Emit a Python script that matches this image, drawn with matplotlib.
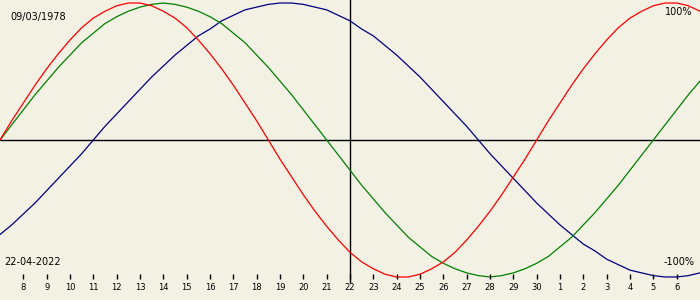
import numpy as np
import matplotlib.pyplot as plt

# Dias relativos a la fecha objetivo (22-04-2022), de -15 a +15, cada medio dia
dias = np.arange(-15, 15.5, 0.5)

# Ciclos (-1 .. 1)
fisico = [0.00, 0.14, 0.27, 0.40, 0.52, 0.63, 0.73, 0.82, 0.89, 0.94, 0.98,
          1.00, 1.00, 0.98, 0.94, 0.89, 0.82, 0.73, 0.63, 0.52, 0.40, 0.27,
          0.14, 0.00, -0.14, -0.27, -0.40, -0.52, -0.63, -0.73, -0.82, -0.89,
          -0.94, -0.98, -1.00, -1.00, -0.98, -0.94, -0.89, -0.82, -0.73, -0.63,
          -0.52, -0.40, -0.27, -0.14,
          0.00, 0.14, 0.27, 0.40, 0.52, 0.63, 0.73, 0.82, 0.89, 0.94, 0.98,
          1.00, 1.00, 0.98, 0.94]
emocional = [0.00, 0.11, 0.22, 0.33, 0.43, 0.53, 0.62, 0.71, 0.78, 0.85, 0.90,
             0.94, 0.97, 0.99, 1.00, 0.99, 0.97, 0.94, 0.90, 0.85, 0.78, 0.71,
             0.62, 0.53, 0.43, 0.33, 0.22, 0.11, 0.00,
             -0.11, -0.22, -0.33, -0.43, -0.53, -0.62, -0.71, -0.78, -0.85,
             -0.90, -0.94, -0.97, -0.99, -1.00, -0.99, -0.97, -0.94, -0.90,
             -0.85, -0.78, -0.71, -0.62, -0.53, -0.43, -0.33, -0.22, -0.11,
             0.00, 0.11, 0.22, 0.33, 0.43]
intelectual = [-0.69, -0.62, -0.54, -0.46, -0.37, -0.28, -0.19, -0.10,
               0.00, 0.10, 0.19, 0.28, 0.37, 0.46, 0.54, 0.62, 0.69, 0.76,
               0.81, 0.87, 0.91, 0.95, 0.97, 0.99, 1.00, 1.00, 0.99, 0.97,
               0.95, 0.91, 0.87, 0.81, 0.76, 0.69, 0.62, 0.54, 0.46, 0.37,
               0.28, 0.19, 0.10, 0.00,
               -0.10, -0.19, -0.28, -0.37, -0.46, -0.54, -0.62, -0.69, -0.76,
               -0.81, -0.87, -0.91, -0.95, -0.97, -0.99, -1.00, -1.00, -0.99,
               -0.97]

# Etiquetas del eje de dias (8 de abril a 6 de mayo)
etiquetas = [str(n) for n in list(range(8, 31)) + list(range(1, 7))]
pos_etiquetas = np.arange(-14, 15)

fondo = '#f3f0e4'
fig = plt.figure(figsize=(7, 3), dpi=100, facecolor=fondo)
ax = fig.add_axes([0, 0, 1, 1])
ax.set_facecolor(fondo)

ax.axhline(0, color='black', linewidth=1.0)
ax.vlines(0, -1.045, 1.1, color='black', linewidth=1.0)

ax.plot(dias, intelectual, color='#000080', linewidth=0.9)
ax.plot(dias, emocional, color='#008000', linewidth=0.9)
ax.plot(dias, fisico, color='#ff0000', linewidth=0.9)

# marcas de los dias
ax.vlines(pos_etiquetas, -1.015, -0.978, color='black', linewidth=1.0)
for p, t in zip(pos_etiquetas, etiquetas):
    ax.text(p, -1.08, t, fontsize=6, ha='center', va='center')

ax.text(-14.57, 0.898, '09/03/1978', fontsize=7, ha='left', va='center')
ax.text(-14.83, -0.891, '22-04-2022', fontsize=7, ha='left', va='center')
ax.text(14.66, 0.934, '100%', fontsize=7, ha='right', va='center')
ax.text(14.75, -0.891, '-100%', fontsize=7, ha='right', va='center')

ax.set_xlim(-15, 15)
ax.set_ylim(-1.168, 1.022)
ax.axis('off')

plt.savefig('out.png', dpi=100, facecolor=fondo)
